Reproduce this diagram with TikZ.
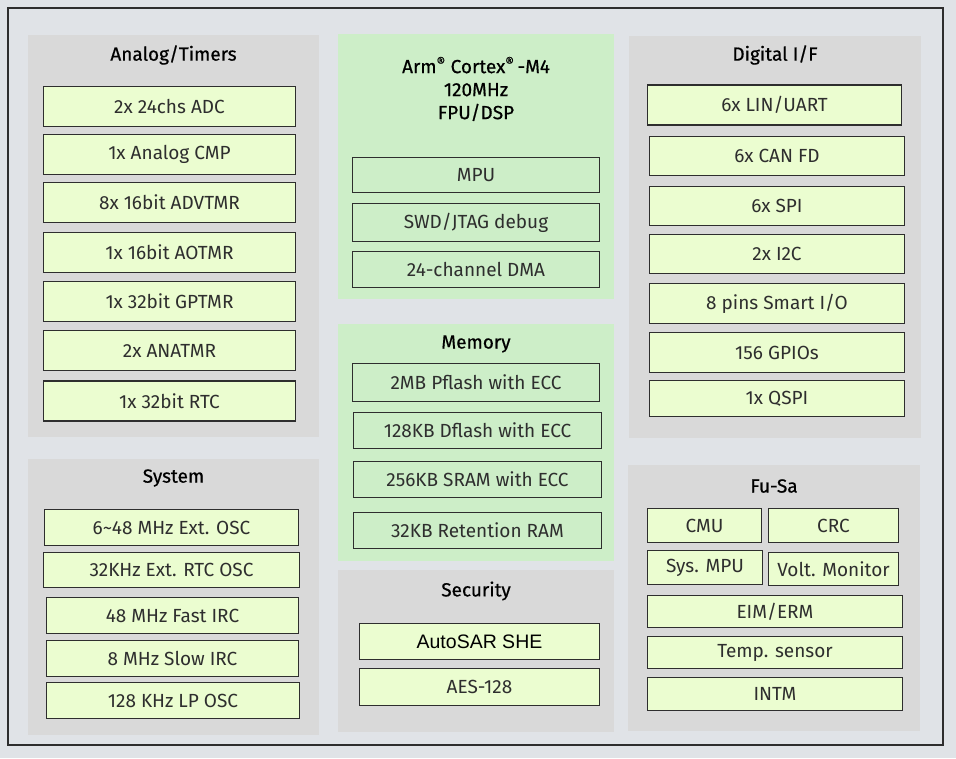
\documentclass[tikz,border=0pt]{standalone}
\usepackage{fontspec}
\setmainfont{Fira Sans}
\newfontfamily\titlefont{Fira Sans}[FakeBold=0.6]
\newfontfamily\arialfont{Liberation Sans}

\definecolor{pagebg}{HTML}{E0E3E7}
\definecolor{panelgray}{HTML}{D9D9D9}
\definecolor{panelgreen}{HTML}{CDEEC8}
\definecolor{boxfill}{HTML}{EBFDD0}
\definecolor{boxline}{HTML}{2E2E2E}
\definecolor{boxtext}{HTML}{2E2E2E}

\tikzset{
  blk/.style={draw=boxline, line width=1.5pt, fill=boxfill, inner sep=0pt,
    minimum width=252pt, minimum height=40pt, text=boxtext,
    font=\fontsize{19}{21}\selectfont},
  cpublk/.style={blk, fill=none},
  paneltitle/.style={font=\titlefont\fontsize{19}{21}\selectfont, text=black, inner sep=0pt},
}

\begin{document}
\begin{tikzpicture}[x=1pt, y=-1pt]

\useasboundingbox (0,0) rectangle (956,758);

% background and frame
\fill [pagebg] (0,0) rectangle (956,758);
\draw [line width=2pt, boxline] (8,8) rectangle (943,745);

% panels
\fill [panelgray]  (28,35)   rectangle (319,437);
\fill [panelgray]  (28,459)  rectangle (319,735);
\fill [panelgreen] (338,34)  rectangle (614,299);
\fill [panelgreen] (338,324) rectangle (614,561);
\fill [panelgray]  (338,570) rectangle (614,732);
\fill [panelgray]  (629,36)  rectangle (921,438);
\fill [panelgray]  (628,465) rectangle (920,731);

% Analog/Timers
\node [paneltitle] (analogtitle) at (173.5,55) {Analog/Timers};
\node [blk] (adc)    at (169.5,106.5) {2x 24chs ADC};
\node [blk] (cmp)    at (169.5,154.5) {1x Analog CMP};
\node [blk] (advtmr) at (169.5,202.5) {8x 16bit ADVTMR};
\node [blk] (aotmr)  at (169.5,252.5) {1x 16bit AOTMR};
\node [blk] (gptmr)  at (169.5,301.5) {1x 32bit GPTMR};
\node [blk] (anatmr) at (169.5,350.5) {2x ANATMR};
\node [blk] (rtc)    at (169.5,401)   {1x 32bit RTC};

% System
\node [paneltitle] (systitle) at (173.5,478) {System};
\node [blk, minimum width=254pt, minimum height=36pt] (extosc)  at (171.5,527.5) {6\textasciitilde48 MHz Ext. OSC};
\node [blk, minimum width=256pt, minimum height=35pt] (rtcosc)  at (171.5,570)   {32KHz Ext. RTC OSC};
\node [blk, minimum height=36pt] (fastirc) at (172.5,615.5) {48 MHz Fast IRC};
\node [blk, minimum height=36pt] (slowirc) at (172.5,658.5) {8 MHz Slow IRC};
\node [blk, minimum width=253pt, minimum height=36pt] (lposc)   at (173,700.5)   {128 KHz LP OSC};

% Arm core
\node [paneltitle, align=center, font=\titlefont\fontsize{19}{23}\selectfont] (cputitle) at (476,89)
  {Arm\textsuperscript{®} Cortex\textsuperscript{®}\,-M4\\120MHz\\FPU/DSP};
\node [cpublk, minimum width=247pt, minimum height=35pt] (mpu)  at (476,175)   {MPU};
\node [cpublk, minimum width=247pt, minimum height=38pt] (swd)  at (476,222.5) {SWD/JTAG debug};
\node [cpublk, minimum width=247pt, minimum height=36pt] (dma)  at (476,269.5) {24-channel DMA};

% Memory
\node [paneltitle] (memtitle) at (476,344) {Memory};
\node [cpublk, minimum width=247pt, minimum height=38pt] (pflash) at (476,382.5)   {2MB Pflash with ECC};
\node [cpublk, minimum width=248pt, minimum height=36pt] (dflash) at (477.5,430.5) {128KB Dflash with ECC};
\node [cpublk, minimum width=248pt, minimum height=36pt] (sram)   at (477.5,479.5) {256KB SRAM with ECC};
\node [cpublk, minimum width=248pt, minimum height=36pt] (retram) at (477.5,530.5) {32KB Retention RAM};

% Security
\node [paneltitle] (sectitle) at (476,591) {Security};
\node [blk, minimum width=240pt, minimum height=36pt, text=black, font=\arialfont\fontsize{19.5}{21}\selectfont] (she) at (479.5,641.5) {AutoSAR SHE};
\node [blk, minimum width=240pt, minimum height=37pt] (aes) at (479.5,687) {AES-128};

% Digital I/F
\node [paneltitle] (digtitle) at (775,55) {Digital I/F};
\node [blk, minimum width=254pt] (uart)    at (774.5,105)   {6x LIN/UART};
\node [blk, minimum width=255pt, minimum height=39pt] (canfd)   at (777,156)   {6x CAN FD};
\node [blk, minimum width=255pt, minimum height=39pt] (spi)     at (777,206)   {6x SPI};
\node [blk, minimum width=255pt, minimum height=39pt] (iic)     at (777,254)   {2x I2C};
\node [blk, minimum width=255pt] (smartio) at (777,303.5) {8 pins Smart I/O};
\node [blk, minimum width=255pt] (gpio)    at (777,352.5) {156 GPIOs};
\node [blk, minimum width=255pt, minimum height=36pt] (qspi)    at (777,398.5) {1x QSPI};

% Fu-Sa
\node [paneltitle] (fusatitle) at (774,486) {Fu-Sa};
\node [blk, minimum width=114pt, minimum height=34pt] (cmu)    at (704.5,525.5) {CMU};
\node [blk, minimum width=130pt, minimum height=34pt] (crc)    at (833.5,525.5) {CRC};
\node [blk, minimum width=115pt, minimum height=34pt] (sysmpu) at (705,567.5)   {Sys. MPU};
\node [blk, minimum width=130pt, minimum height=33pt] (volt)   at (833.5,569)   {Volt. Monitor};
\node [blk, minimum width=255pt, minimum height=32pt] (eim)    at (775,611.5)   {EIM/ERM};
\node [blk, minimum width=255pt, minimum height=32pt] (temp)   at (775,652.5)   {Temp. sensor};
\node [blk, minimum width=255pt, minimum height=33pt] (intm)   at (775,694)     {INTM};

\end{tikzpicture}
\end{document}
